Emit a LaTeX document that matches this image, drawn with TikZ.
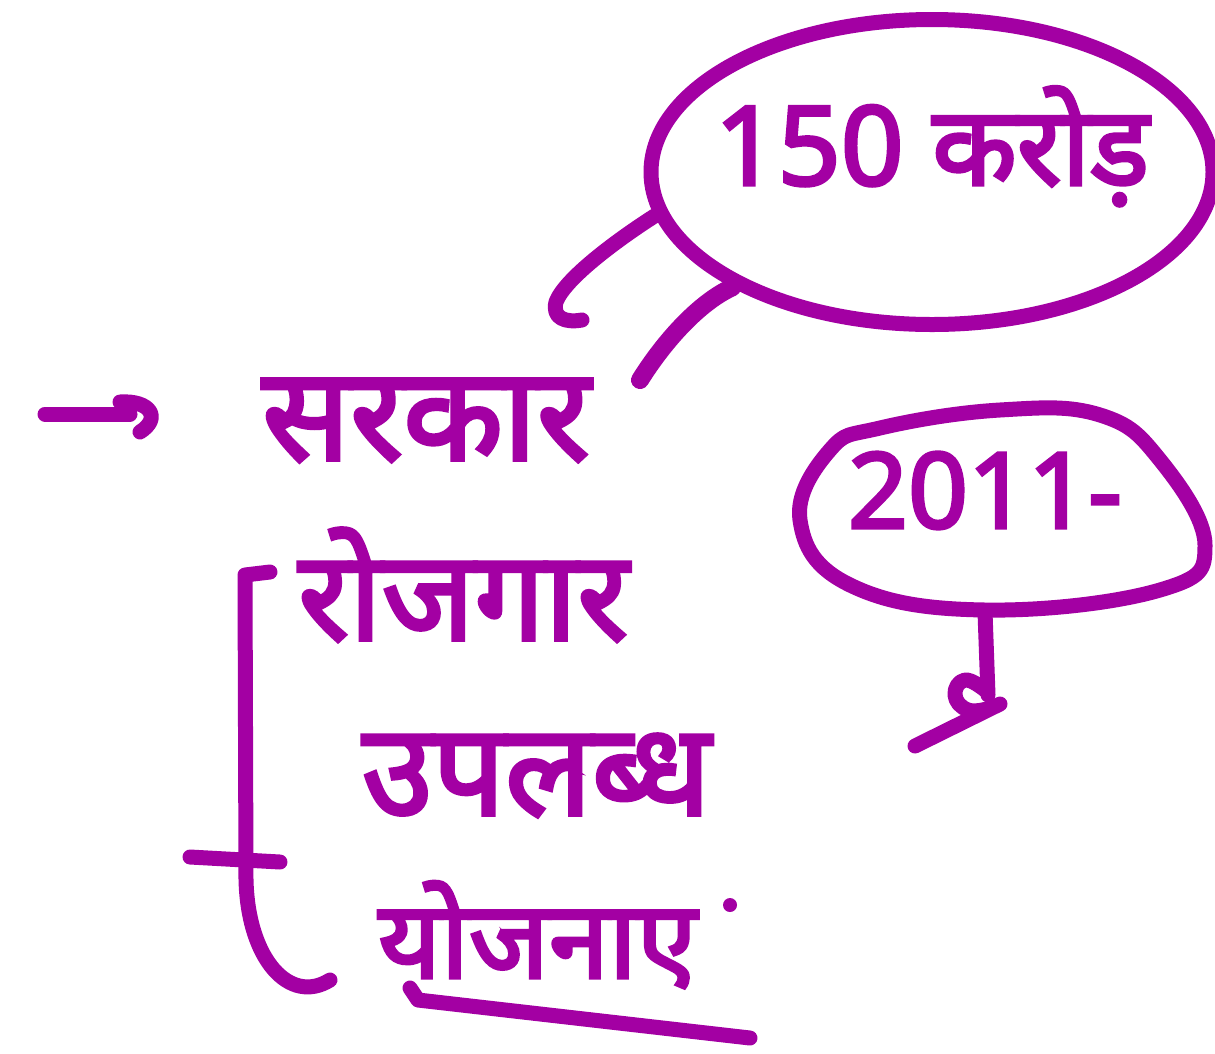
\documentclass[tikz,border=0pt]{standalone}
\usepackage{fontspec}
\newfontfamily\deva[Script=Devanagari, FakeBold=3]{Noto Sans}
\definecolor{ink}{RGB}{163,0,163}
\usetikzlibrary{shapes.geometric}
\begin{document}
\begin{tikzpicture}[x=1pt,y=-1pt,
  inkline/.style={draw=ink, line width=15pt, line cap=round, line join=round},
  word/.style={text=ink, inner sep=0pt, font=\deva\fontsize{#1}{#1}\selectfont},
  word/.default=100]
\useasboundingbox (0,0) rectangle (1215,1053);
\fill[white] (0,0) rectangle (1215,1053);

% arrow
\coordinate (arrowtail) at (45,414);
\coordinate (arrowtip) at (130,414);
\draw[inkline] (arrowtail) -- (arrowtip);
\draw[inkline] (120,402) .. controls (150,400) and (162,418) .. (140,432);

% words
\node[word=130, anchor=base west] (sarkar) at (262,460) {सरकार};
\node[word=125, anchor=base west] (rojgar) at (298,640) {रोजगार};
\node[word=128, anchor=base west] (uplabdh) at (362,815) {उपलब्ध};
\node[word=108, anchor=base west] (yojanae) at (378,978) {योजनाए};
\fill[ink] (730,905) circle (7);
\draw[inkline] (410,988) -- (418,1000) -- (750,1038);

% bracket
\coordinate (brtop) at (270,572);
\coordinate (brbot) at (330,980);
\draw[inkline] (brtop) -- (245,575) -- (246,880) .. controls (248,960) and (290,1005) .. (brbot);
\draw[inkline] (190,857) -- (280,862);

% bubble 150 crore
\node[draw=ink, line width=15pt, ellipse, minimum width=562pt, minimum height=305pt, inner sep=0pt] (bubble1) at (932,172) {};
\node[word=110, anchor=base] (crore) at (932,185) {150 करोड़};
\draw[inkline] (bubble1.189) .. controls (620,238) and (565,278) .. (556,302) .. controls (552,318) and (565,323) .. (582,320);
\draw[inkline, line width=18pt] (bubble1.210) .. controls (700,302) and (665,340) .. (640,380);

% bubble 2011
\draw[inkline] plot[smooth cycle, tension=0.7] coordinates {(880,428) (1000,410) (1100,415) (1160,460) (1205,545) (1160,590) (985,610) (850,585) (800,520) (830,450)};
\coordinate (b2bottom) at (985,612);
\node[word=105, anchor=base] (year) at (985,528) {2011-};
\draw[inkline] (b2bottom) -- (988,695);
\draw[inkline] plot[smooth, tension=0.8] coordinates {(985,690) (965,680) (955,695) (968,710) (990,708)};
\draw[inkline] (1000,704) -- (915,746);
\end{tikzpicture}
\end{document}
